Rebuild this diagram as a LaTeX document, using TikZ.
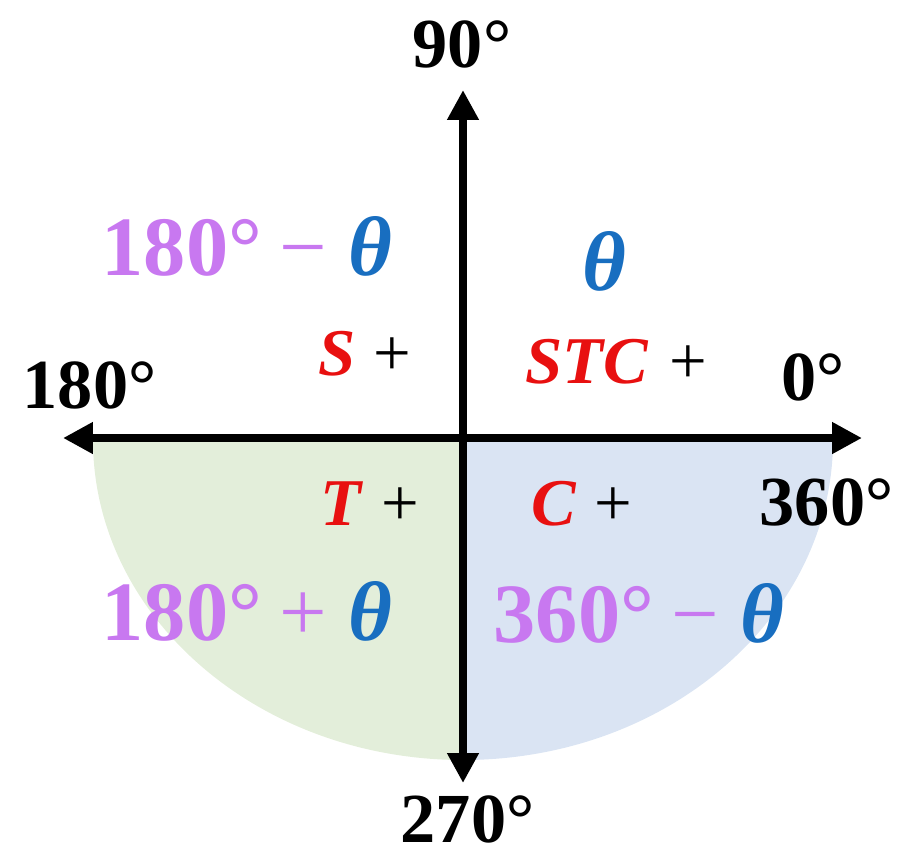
\documentclass[tikz,border=0pt]{standalone}
\usepackage{fontspec}
\setmainfont{Liberation Serif}
\usetikzlibrary{arrows.meta}
\definecolor{purp}{RGB}{200,120,240}
\definecolor{thb}{RGB}{24,110,192}
\definecolor{redc}{RGB}{232,16,16}
\definecolor{gshade}{RGB}{227,238,218}
\definecolor{bshade}{RGB}{218,228,243}
\newcommand{\thz}{\textbf{\textit{θ}}}
\newcommand{\blkfont}{\fontsize{20pt}{20pt}\selectfont\bfseries}
\newcommand{\sgnfont}{\fontsize{19pt}{19pt}\selectfont\bfseries}
\newcommand{\bigfont}{\fontsize{24pt}{24pt}\selectfont\bfseries}
\begin{document}
\begin{tikzpicture}[x=0.01cm,y=-0.01cm,
  arr/.style={line width=2.3pt,{Triangle[length=8.5pt,width=8.5pt]}-{Triangle[length=8.5pt,width=8.5pt]}},
  lab/.style={inner sep=0pt,anchor=base west},
  blk/.style={lab,font=\blkfont},
  big/.style={lab,font=\bigfont},
  sgn/.style={lab,font=\sgnfont}]
\useasboundingbox (0,0) rectangle (909,854);
% shaded half ellipse
\coordinate (O) at (463,440);
\fill[gshade] (O) -- (93,440) arc[start angle=180,end angle=90,x radius=370,y radius=320] -- cycle;
\fill[bshade] (O) -- (833,440) arc[start angle=0,end angle=90,x radius=370,y radius=320] -- cycle;
% axes
\coordinate (W) at (63,438);
\coordinate (E) at (862,438);
\coordinate (N) at (463,90);
\coordinate (S) at (463,783);
\draw[arr] (W) -- (E);
\draw[arr] (N) -- (S);
% angle labels
\node[blk] (l90) at (412,67) {90°};
\node[blk] (l180) at (22,408) {180°};
\node[blk] (l0) at (781,400) {0°};
\node[blk] (l360) at (759,525) {360°};
\node[blk] (l270) at (400,842) {270°};
% quadrant formulas
\node[big] (q2) at (101,275) {\color{purp}180°\hspace{5pt}\textmd{−}\hspace{6pt}\color{thb}\thz};
\node[big] (q1) at (582,290) {\color{thb}\thz};
\node[big] (q3) at (101,640) {\color{purp}180°\hspace{5pt}\textmd{+}\hspace{6pt}\color{thb}\thz};
\node[big] (q4) at (493,642) {\color{purp}360°\hspace{5pt}\textmd{−}\hspace{6pt}\color{thb}\thz};
% signs
\node[sgn] (s2) at (318,375) {\color{redc}\textit{S}\hspace{5pt}\color{black}\textmd{+}};
\node[sgn] (s1) at (525,383) {\color{redc}\textit{STC}\hspace{6pt}\color{black}\textmd{+}};
\node[sgn] (s3) at (320,525) {\color{redc}\textit{T}\hspace{5pt}\color{black}\textmd{+}};
\node[sgn] (s4) at (531,525) {\color{redc}\textit{C}\hspace{5pt}\color{black}\textmd{+}};
\end{tikzpicture}
\end{document}
